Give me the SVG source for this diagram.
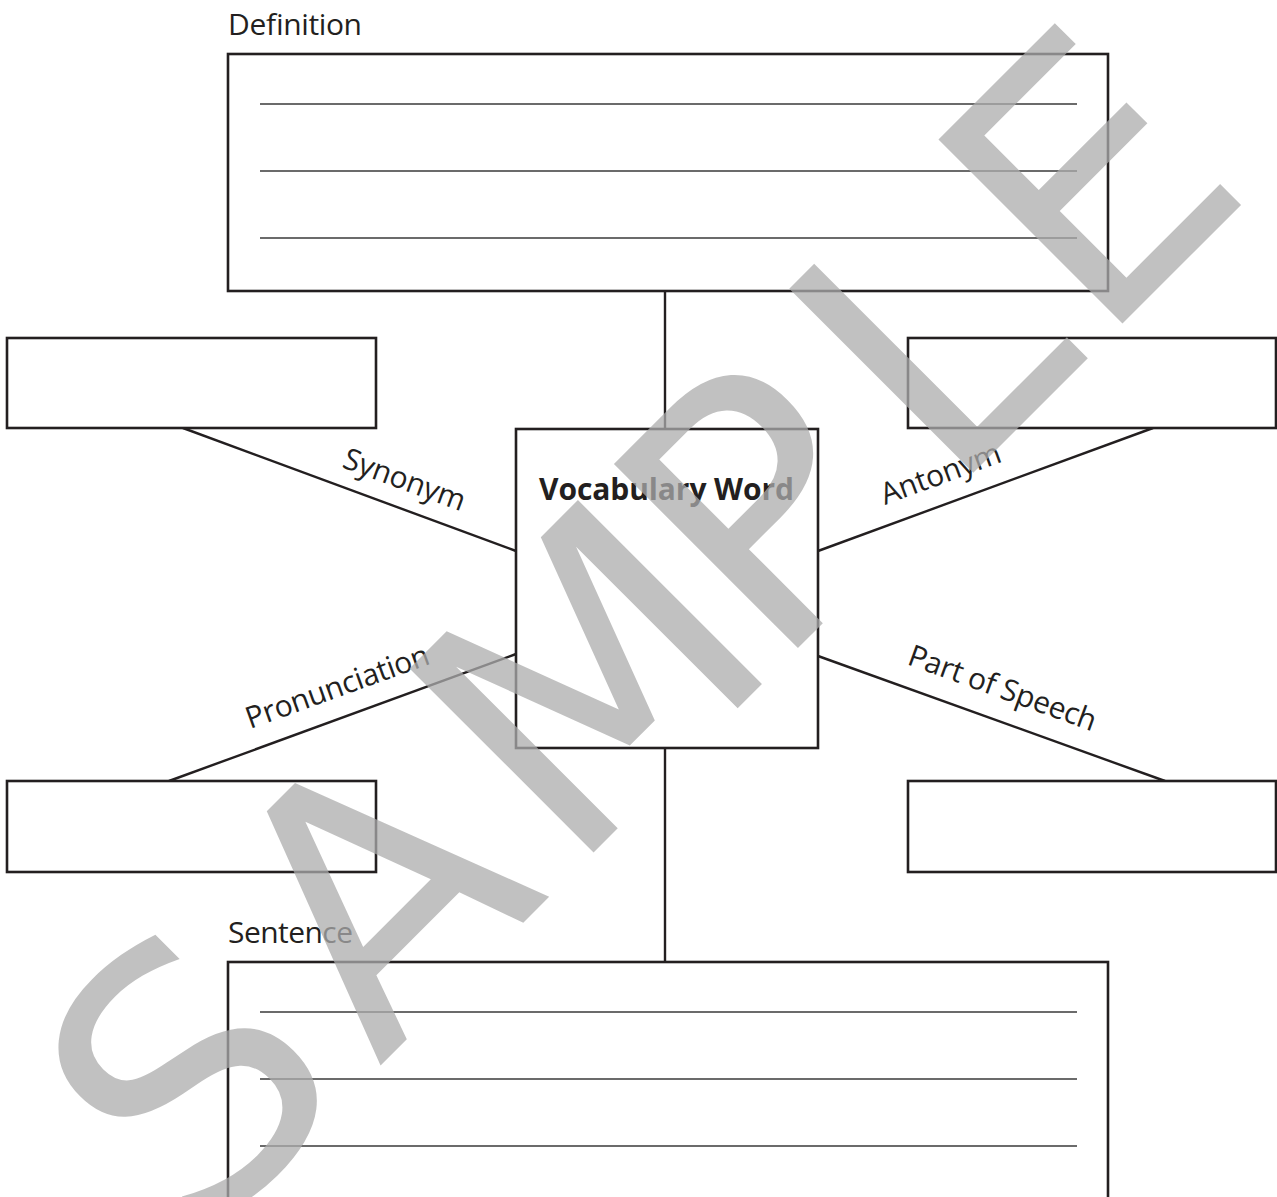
<svg xmlns="http://www.w3.org/2000/svg" width="1277" height="1197" viewBox="0 0 1277 1197">
<style>
.box{fill:#fff;stroke:#231f20;stroke-width:2.6}
.rule{stroke:#3a3a3a;stroke-width:1.3;fill:none}
.conn{stroke:#231f20;stroke-width:2.4;fill:none}
.lbl{font-family:"Open Sans","Noto Sans","Liberation Sans",sans-serif;font-size:30px;fill:#231f20}
.title{font-family:"Open Sans","Noto Sans","Liberation Sans",sans-serif;font-size:30px;font-weight:bold;fill:#231f20}
.wm{font-family:"DejaVu Sans","Open Sans",sans-serif;font-size:357px;fill:#acacac;fill-opacity:0.75}
</style>
<rect width="1277" height="1197" fill="#fff"/>
<g id="connectors">
<line class="conn" x1="665" y1="291" x2="665" y2="429"/>
<line class="conn" x1="665" y1="748" x2="665" y2="962"/>
<line class="conn" x1="183" y1="428" x2="516" y2="551"/>
<line class="conn" x1="1153" y1="428" x2="818" y2="551"/>
<line class="conn" x1="169" y1="781" x2="516" y2="654"/>
<line class="conn" x1="1165" y1="781" x2="818" y2="656"/>
</g>
<g id="definition">
<text class="lbl" x="228" y="35" textLength="134">Definition</text>
<rect class="box" x="228" y="54" width="880" height="237"/>
<line class="rule" x1="260" y1="104" x2="1077" y2="104"/>
<line class="rule" x1="260" y1="171" x2="1077" y2="171"/>
<line class="rule" x1="260" y1="238" x2="1077" y2="238"/>
</g>
<g id="vocabulary-word">
<rect class="box" x="516" y="429" width="302" height="319"/>
<text class="title" x="539" y="500" textLength="255">Vocabulary Word</text>
</g>
<g id="synonym-box"><rect class="box" x="7" y="338" width="369" height="90"/></g>
<g id="antonym-box"><rect class="box" x="908" y="338" width="368" height="90"/></g>
<g id="pronunciation-box"><rect class="box" x="7" y="781" width="369" height="91"/></g>
<g id="part-of-speech-box"><rect class="box" x="908" y="781" width="368" height="91"/></g>
<g id="sentence">
<text class="lbl" x="228" y="943" textLength="125">Sentence</text>
<rect class="box" x="228" y="962" width="880" height="260"/>
<line class="rule" x1="260" y1="1012" x2="1077" y2="1012"/>
<line class="rule" x1="260" y1="1079" x2="1077" y2="1079"/>
<line class="rule" x1="260" y1="1146" x2="1077" y2="1146"/>
</g>
<g id="edge-labels">
<text class="lbl" transform="translate(341,467) rotate(20.3)" textLength="128">Synonym</text>
<text class="lbl" transform="translate(885,505) rotate(-20.2)" textLength="126">Antonym</text>
<text class="lbl" transform="translate(250,729) rotate(-19.8)" textLength="193">Pronunciation</text>
<text class="lbl" transform="translate(906,664) rotate(19.9)" textLength="198">Part of Speech</text>
</g>
<g id="watermark">
<text class="wm" transform="translate(738.5,707.5) rotate(-45)" x="-764 -509 -240 49 297 508" y="0">SAMPLE</text>
</g>
</svg>
